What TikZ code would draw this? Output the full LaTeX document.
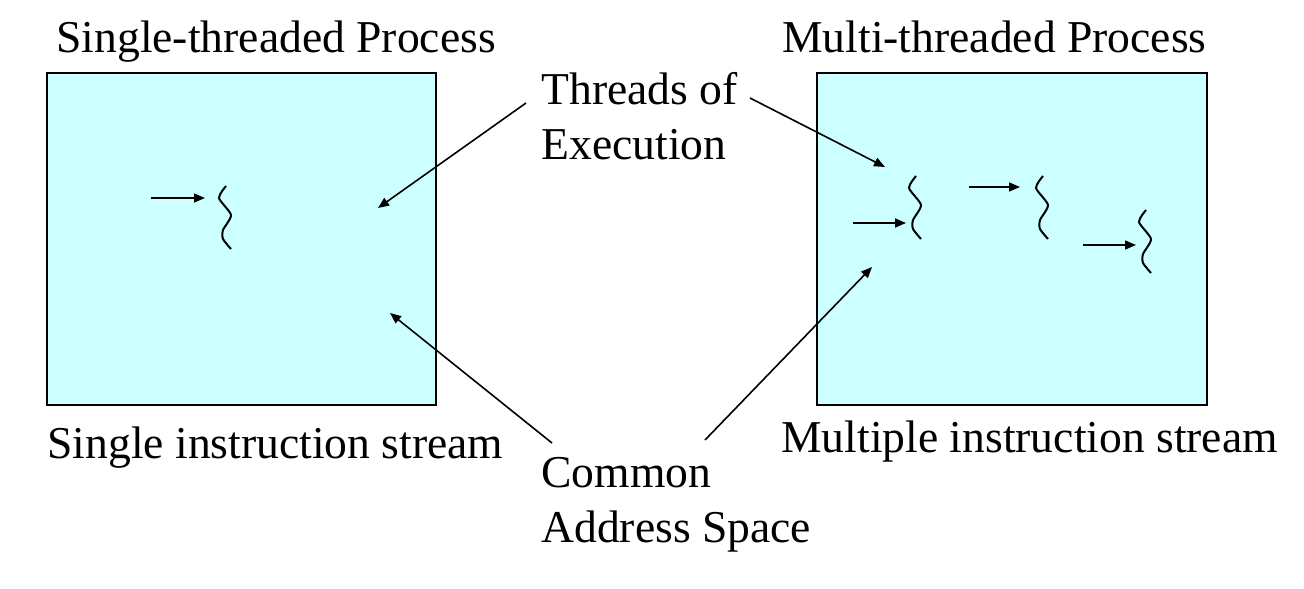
\documentclass[tikz,border=0pt]{standalone}
\usepackage{fontspec}
\setmainfont{Liberation Serif}
\usetikzlibrary{arrows.meta}

\definecolor{space}{HTML}{CCFFFF}

\begin{document}
\begin{tikzpicture}[x=0.5pt, y=-0.5pt,
   label/.style={inner sep=0pt, anchor=base west, align=left,
      font=\fontsize{22.8}{27.5}\selectfont},
   process/.style={draw, line width=1pt, fill=space},
   pointer/.style={-{Triangle[length=5.5pt, width=4.5pt]}, line width=0.8pt},
   squiggle/.style={line width=1pt}]
\useasboundingbox (0,0) rectangle (1304,588);

% the two processes
\draw[process] (47,73) rectangle (436,405);
\draw[process] (817,73) rectangle (1207,405);

\node[label] (single) at (56,53) {Single-threaded Process};
\node[label] (multi) at (782,53) {Multi-threaded Process};
\node[label] (sstream) at (47,458) {Single instruction stream};
\node[label] (mstream) at (781,452) {Multiple instruction stream};
\node[label] (threads) at (541,160) {Threads of\\Execution};
\node[label] (common) at (541,542) {Common\\Address Space};

% threads of execution
\foreach \x/\y in {226/186, 916/176, 1043/176, 1146/210}
  \draw[squiggle, shift={(\x,\y)}] plot[smooth, tension=0.4] coordinates
    {(0,0) (-7,12) (5,29) (-3,44) (-3,53) (5,63)};

\coordinate (t0s) at (151,198);  \coordinate (t0) at (205,198);
\coordinate (t1s) at (853,223);  \coordinate (t1) at (906,223);
\coordinate (t2s) at (969,187);  \coordinate (t2) at (1020,187);
\coordinate (t3s) at (1083,245); \coordinate (t3) at (1136,245);
\draw[pointer] (t0s) -- (t0);
\draw[pointer] (t1s) -- (t1);
\draw[pointer] (t2s) -- (t2);
\draw[pointer] (t3s) -- (t3);

% labels pointing into the boxes
\coordinate (threads-l) at (526,103);
\coordinate (threads-r) at (750,98);
\coordinate (common-l) at (552,443);
\coordinate (common-r) at (705,440);
\coordinate (left-thread) at (378,208);
\coordinate (right-thread) at (885,167);
\coordinate (left-space) at (390,313);
\coordinate (right-space) at (872,267);
\draw[pointer] (threads-l) -- (left-thread);
\draw[pointer] (threads-r) -- (right-thread);
\draw[pointer] (common-l) -- (left-space);
\draw[pointer] (common-r) -- (right-space);
\end{tikzpicture}
\end{document}
